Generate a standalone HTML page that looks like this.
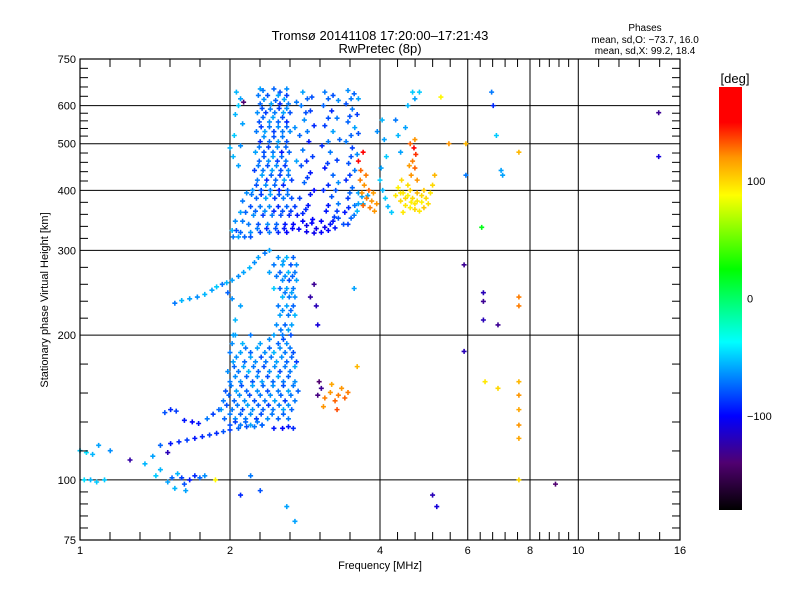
<!DOCTYPE html>
<html><head><meta charset="utf-8"><style>
body{margin:0;background:#fff;}
svg{display:block;font-family:"Liberation Sans","DejaVu Sans",sans-serif;}
</style></head><body>
<svg id="chart" width="800" height="600" viewBox="0 0 800 600" xmlns="http://www.w3.org/2000/svg">
<rect x="0" y="0" width="800" height="600" fill="#fff"/>
<text x="380" y="40" font-size="13" text-anchor="middle">Tromsø 20141108 17:20:00–17:21:43</text>
<text x="380" y="53" font-size="13" text-anchor="middle">RwPretec (8p)</text>
<text x="645" y="31" font-size="10" text-anchor="middle">Phases</text>
<text x="645" y="43" font-size="10" text-anchor="middle">mean, sd,O: −73.7, 16.0</text>
<text x="645" y="54" font-size="10" text-anchor="middle">mean, sd,X:  99.2, 18.4</text>
<text transform="translate(48,300) rotate(-90)" font-size="11" text-anchor="middle">Stationary phase Virtual Height [km]</text>
<text x="380" y="569" font-size="11" text-anchor="middle">Frequency [MHz]</text>
<g id="grid"></g>
<g id="points"></g>
<g id="frame"></g>
<g id="cbar"></g>
</svg>
<script>
const xTicks=[1,2,4,6,8,10,16];
const yTicks=[75,100,200,300,400,500,600,750];
const cbTicks=[100,0,-100];
const upperBlue=[[2.3,650,-60],[2.45,650,-75],[2.6,650,-65],[2.28,630,-70],[2.38,630,-80],[2.5,630,-60],[2.6,630,-85],[2.3,605,-75],[2.42,605,-60],[2.52,605,-90],[2.62,605,-70],[2.27,580,-65],[2.36,580,-85],[2.46,580,-70],[2.56,580,-60],[2.64,580,-80],[2.29,555,-80],[2.4,555,-65],[2.5,555,-75],[2.6,555,-90],[2.26,530,-70],[2.35,530,-60],[2.45,530,-85],[2.55,530,-70],[2.64,530,-65],[2.3,505,-90],[2.4,505,-75],[2.5,505,-60],[2.6,505,-80],[2.25,480,-60],[2.34,480,-80],[2.44,480,-70],[2.54,480,-95],[2.63,480,-75],[2.29,460,-75],[2.39,460,-65],[2.49,460,-85],[2.59,460,-70],[2.24,440,-85],[2.33,440,-70],[2.43,440,-60],[2.53,440,-80],[2.62,440,-65],[2.27,420,-70],[2.37,420,-90],[2.47,420,-75],[2.57,420,-60],[2.66,420,-85],[2.22,400,-65],[2.31,400,-80],[2.41,400,-70],[2.51,400,-95],[2.61,400,-75],[2.26,385,-75],[2.36,385,-60],[2.46,385,-85],[2.56,385,-70],[2.66,385,-80],[2.2,370,-80],[2.3,370,-70],[2.4,370,-65],[2.5,370,-90],[2.6,370,-75],[2.7,370,-85],[2.23,355,-65],[2.33,355,-85],[2.43,355,-70],[2.53,355,-80],[2.63,355,-90],[2.73,355,-95],[2.18,340,-70],[2.28,340,-80],[2.38,340,-65],[2.48,340,-75],[2.58,340,-95],[2.68,340,-100],[2.1,327,-75],[2.2,327,-65],[2.3,327,-85],[2.4,327,-70],[2.5,327,-90],[2.6,327,-100],[2.03,320,-70],[2.08,320,-60],[2.14,320,-75],[2.2,320,-80],[2.02,330,-55],[2.06,330,-80],[2.05,345,-65],[2.12,345,-70],[2.1,360,-60],[2.15,360,-75],[2.12,380,-70],[2.16,395,-65],
[2.06,640,-55],[2.1,620,-60],[2.08,600,-50],[2.05,575,-55],[2.12,550,-60],[2.04,520,-50],[2.1,495,-65],[2.03,470,-55],[2.08,450,-60],[2.0,490,-55],[2.13,610,-140],
[2.8,640,-60],[2.92,625,-80],[2.78,600,-70],[2.9,585,-85],[2.82,560,-65],[2.95,545,-90],[2.76,520,-75],[2.88,505,-95],[2.8,485,-70],[2.93,470,-85],[2.78,450,-80],[2.9,435,-95],[2.82,415,-75],[2.95,400,-100],[2.76,385,-85],[2.87,372,-95],[2.8,358,-90],[2.93,348,-100],[2.85,338,-105],[2.98,333,-105],[2.72,460,-60],[2.7,540,-65],[2.72,610,-70],
[2.75,332,-100],[2.85,328,-105],[2.95,326,-105],[3.05,327,-100],[3.15,330,-100],[3.25,334,-95],
[3.1,640,-70],[3.22,630,-80],[3.3,615,-65],[3.08,600,-75],[3.2,585,-90],[3.28,565,-70],[3.1,545,-85],[3.22,530,-60],[3.32,510,-75],[3.06,495,-90],[3.18,480,-70],[3.28,462,-85],[3.1,445,-95],[3.22,430,-75],[3.3,415,-65],[3.08,400,-90],[3.2,388,-80],[3.3,375,-70],[3.12,362,-95],[3.24,352,-85],[3.05,345,-100],[3.18,340,-95],[3.3,350,-80],
[3.45,645,-65],[3.55,635,-75],[3.62,620,-60],[3.42,605,-80],[3.52,590,-70],[3.6,575,-85],[3.45,555,-75],[3.56,540,-60],[3.62,525,-80],[3.42,505,-70],[3.52,490,-85],[3.6,475,-65],[3.46,455,-80],[3.56,440,-70],[3.42,420,-90],[3.52,405,-75],[3.62,395,-60],[3.45,385,-85],[3.56,372,-70],[3.4,360,-95],[3.5,350,-75],[3.6,362,-55],[3.7,375,-55],[3.78,390,-60],[3.38,340,-80],
[4.0,420,-50],[4.05,400,-55],[4.1,385,-50],[4.02,445,-60],[4.15,370,-55],[4.22,360,-50],[4.08,510,-60],[4.04,560,-55],[3.95,530,-65],[4.3,560,-70],[4.12,470,-50],
[4.4,480,-60],[4.35,520,-55],[4.5,540,-60],[4.55,600,-55],[4.65,640,-50],[4.7,620,-60]];
const upperFill=[[2.33,645,-70],[2.52,640,-80],[2.34,618,-65],[2.47,615,-75],[2.57,618,-60],[2.32,592,-80],[2.41,590,-70],[2.51,592,-85],[2.6,592,-65],[2.33,567,-75],[2.44,567,-60],[2.55,567,-80],[2.31,542,-85],[2.4,542,-70],[2.5,542,-65],[2.6,542,-75],[2.34,517,-65],[2.45,517,-80],[2.55,517,-70],[2.29,492,-70],[2.39,492,-85],[2.49,492,-65],[2.59,492,-75],[2.34,470,-80],[2.44,470,-60],[2.54,470,-75],[2.28,450,-70],[2.38,450,-80],[2.48,450,-65],[2.58,450,-85],[2.32,430,-60],[2.42,430,-75],[2.52,430,-85],[2.62,430,-70],[2.26,410,-80],[2.36,410,-65],[2.46,410,-75],[2.56,410,-90],[2.21,392,-70],[2.31,392,-85],[2.41,392,-60],[2.51,392,-80],[2.61,392,-70],[2.25,362,-75],[2.35,362,-65],[2.45,362,-90],[2.55,362,-80],[2.65,362,-85],[2.27,333,-70],[2.37,333,-90],[2.47,333,-80],[2.57,333,-95],[2.67,333,-100],
[2.86,620,-75],[2.84,580,-80],[2.86,530,-70],[2.85,460,-90],[2.86,425,-85],[2.9,392,-95],[2.84,365,-90],[2.92,342,-100],[2.8,345,-100],
[3.15,620,-75],[3.15,565,-80],[3.15,505,-70],[3.14,455,-85],[3.15,410,-90],[3.26,400,-80],[3.15,372,-95],[3.28,362,-85],[3.1,335,-105],[3.22,345,-95],
[3.5,620,-70],[3.48,570,-80],[3.5,520,-75],[3.5,470,-80],[3.48,430,-85],[3.48,395,-75],[3.46,368,-90],[3.55,355,-70],[3.62,375,-60],[3.68,388,-60],[3.45,340,-85]];
const upperOrange=[[3.65,420,125],[3.72,410,120],[3.8,400,130],[3.68,395,120],[3.76,385,125],[3.85,380,120],[3.7,372,130],[3.82,368,125],[3.9,362,120],[3.66,440,130],[3.75,430,125],[3.88,395,118],[3.94,375,120],[3.62,460,150],[3.7,480,155],
[4.62,430,120],[4.7,445,130],[4.65,460,125],[4.72,475,140],[4.68,490,150],[4.6,500,130],[4.75,420,120],[4.58,450,118],[4.7,510,120]];
const upperYellow=[[4.35,405,92],[4.45,395,95],[4.55,390,90],[4.65,385,100],[4.75,380,95],[4.85,378,92],[4.95,385,100],[5.05,395,95],[4.4,380,100],[4.5,372,95],[4.6,368,92],[4.7,365,100],[4.8,362,95],[4.9,368,105],[5.0,375,98],[4.42,420,100],[4.55,410,98],[4.9,400,105],[5.1,410,100],[5.15,430,110],[4.3,390,95],[4.6,400,100],[4.75,395,110],[4.45,360,95],[4.5,385,100],[4.7,375,95],[4.85,390,100],[4.62,378,92],[4.4,395,95]];
const lowerBlob=[[2.5,290,-65],[2.6,290,-55],[2.68,290,-75],[2.45,280,-70],[2.55,280,-60],[2.65,280,-80],[2.72,280,-65],[2.4,270,-60],[2.52,270,-75],[2.62,270,-55],[2.7,270,-70],[2.55,260,-65],[2.63,260,-80],[2.72,260,-60],[2.52,250,-75],[2.6,250,-60],[2.68,250,-70],[2.45,250,-50],[2.55,240,-55],[2.63,240,-70],[2.7,240,-65],[2.5,230,-70],[2.6,230,-60],[2.68,230,-75],[2.52,220,-60],[2.62,220,-70],[2.7,220,-55],[2.48,210,-65],[2.58,210,-75],[2.66,210,-60],
[2.05,200,-60],[2.2,200,-70],[2.45,200,-60],[2.55,200,-70],[2.65,200,-80],[2.02,192,-65],[2.12,192,-55],[2.3,192,-60],[2.5,192,-75],[2.6,192,-65],[2.0,184,-70],[2.1,184,-60],[2.2,184,-75],[2.35,184,-65],[2.45,184,-55],[2.58,184,-70],[2.68,184,-80],[2.03,176,-60],[2.14,176,-75],[2.25,176,-65],[2.36,176,-70],[2.48,176,-60],[2.6,176,-75],[2.72,176,-85],[1.98,168,-65],[2.08,168,-70],[2.18,168,-55],[2.28,168,-75],[2.4,168,-65],[2.52,168,-80],[2.64,168,-70],[2.0,160,-70],[2.1,160,-65],[2.22,160,-80],[2.32,160,-60],[2.44,160,-75],[2.56,160,-70],[2.7,160,-65],[1.96,153,-80],[2.06,153,-60],[2.16,153,-75],[2.27,153,-65],[2.38,153,-80],[2.5,153,-70],[2.62,153,-60],[2.74,153,-75],[1.94,146,-70],[2.04,146,-75],[2.14,146,-65],[2.24,146,-80],[2.35,146,-70],[2.46,146,-60],[2.58,146,-85],[2.7,146,-70],[1.92,140,-60],[2.02,140,-70],[2.12,140,-80],[2.22,140,-65],[2.33,140,-75],[2.44,140,-70],[2.56,140,-60],[2.66,140,-75],[1.95,134,-75],[2.05,134,-65],[2.15,134,-70],[2.26,134,-85],[2.38,134,-65],[2.5,134,-75],[2.62,134,-70],[2.0,130,-80],[2.1,130,-70],[2.2,130,-60],[2.32,130,-75],
[2.95,255,-130],[2.9,240,-125],[2.98,230,-120],[3.0,210,-110],[2.05,215,-55],[2.1,230,-60],[2.03,200,-60]];
const lowerFill=[[2.56,285,-60],[2.48,265,-70],[2.58,265,-65],[2.67,265,-75],[2.58,245,-70],[2.66,245,-60],[2.55,225,-65],[2.65,225,-75],[2.53,205,-70],[2.62,205,-60],[2.4,196,-65],[2.56,196,-80],[2.15,188,-70],[2.27,188,-60],[2.4,188,-75],[2.52,188,-65],[2.64,188,-70],[2.06,180,-65],[2.2,180,-60],[2.31,180,-80],[2.42,180,-70],[2.54,180,-65],[2.66,180,-75],[2.04,172,-75],[2.13,172,-60],[2.23,172,-70],[2.34,172,-80],[2.46,172,-65],[2.58,172,-70],[2.7,172,-60],[2.05,164,-65],[2.16,164,-75],[2.27,164,-65],[2.38,164,-80],[2.5,164,-60],[2.62,164,-75],[2.01,157,-70],[2.11,157,-80],[2.22,157,-60],[2.33,157,-75],[2.44,157,-65],[2.56,157,-80],[2.68,157,-70],[1.99,150,-75],[2.09,150,-65],[2.19,150,-80],[2.3,150,-70],[2.41,150,-65],[2.53,150,-75],[2.65,150,-70],[1.97,143,-80],[2.07,143,-70],[2.17,143,-60],[2.28,143,-75],[2.39,143,-85],[2.51,143,-70],[2.62,143,-65],[2.0,137,-70],[2.1,137,-75],[2.2,137,-65],[2.31,137,-80],[2.43,137,-70],[2.56,137,-75],[2.05,132,-85],[2.15,132,-75],[2.27,132,-70]];
const lowerTraces=[[1.45,118,-75],[1.52,119,-95],[1.58,120,-90],[1.64,121,-85],[1.7,122,-95],[1.76,123,-90],[1.82,124,-85],[1.88,125,-90],[1.94,126,-80],[2.0,127,-85],[2.08,128,-75],[2.16,129,-80],[2.24,129,-70],[2.32,130,-75],[2.45,128,-95],[2.55,128,-100],[2.62,129,-95],[2.68,128,-90],
[1.48,138,-80],[1.52,140,-90],[1.56,139,-85],[1.62,133,-95],[1.68,132,-100],[1.73,131,-95],[1.8,134,-70],[1.85,137,-85],[1.9,140,-75],[1.4,112,-60],[1.35,108,-55],[1.5,114,-120],
[1.5,99,-60],[1.53,101,-75],[1.57,103,-55],[1.6,101,-85],[1.62,98,-80],[1.66,100,-95],[1.7,102,-90],[1.74,101,-75],[1.78,102,-65],[1.55,96,-55],[1.63,95,-60],[1.45,105,-55],[1.42,102,-50],[1.87,100,90],
[1.0,115,-50],[1.03,114,-45],[1.06,113,-55],[1.09,118,-60],[1.02,100,-45],[1.05,100,-55],[1.08,99,-50],[1.15,115,-65],[1.26,110,-125],[1.12,100,-50],
[1.55,233,-70],[1.6,236,-55],[1.66,238,-60],[1.72,240,-65],[1.78,243,-55],[1.84,248,-60],[1.88,252,-50],[1.93,255,-70],[1.97,257,-55],[2.02,260,-60],[2.08,265,-65],[2.13,270,-60],[2.19,276,-55],[2.24,283,-65],[2.28,290,-60],[2.35,296,-70],[2.4,300,-60],[1.98,245,-75],[2.02,238,-65]];
const lowerOrange=[[3.1,148,125],[3.18,152,120],[3.25,146,130],[3.3,150,125],[3.35,155,120],[3.4,148,130],[3.45,152,125],[3.2,158,115],[3.08,142,120],[3.28,140,135],[3.02,160,-140],[3.05,155,-130],[3.0,150,-135],[3.6,172,110],[3.55,250,-60]];
const scatterRight=[[6.45,245,-120],[6.45,235,-130],[6.45,215,-120],[6.9,210,-130],[7.6,240,125],[7.6,230,125],[7.6,160,110],[7.6,150,120],[7.6,140,115],[7.6,130,120],[7.6,122,115],[7.6,100,100],[6.5,160,95],[6.9,155,100],[5.9,280,-130],[5.9,185,-120],[6.4,335,20],[5.95,500,110],[5.95,430,-70],[7.0,440,-60],[7.05,430,-60],[6.85,520,-50],[6.7,640,-70],[6.75,600,-90],[7.6,480,110],[14.5,580,-130],[14.5,470,-110],[9.0,98,-140],[5.3,625,90],[5.5,500,120],[4.8,640,-50],[5.1,93,-120],[5.2,88,-110],[2.1,93,-90],[2.6,88,-60],[2.3,95,-80],[2.7,82,-60],[2.2,102,-70]];

const X0=80,X1=680,Y0=59,Y1=540;
function xs(f){return X0+(X1-X0)*Math.log10(f)/Math.log10(16);}
function ys(h){return Y1-(Y1-Y0)*Math.log10(h/75)/Math.log10(10);}
const stops=[[-180,[0,0,0]],[-140,[80,0,112]],[-100,[0,0,255]],[-37,[0,255,255]],[25,[0,255,0]],[88,[255,255,0]],[120,[255,150,0]],[150,[255,0,0]],[180,[255,0,0]]];
function col(p){p=Math.max(-180,Math.min(180,p));for(let i=1;i<stops.length;i++){if(p<=stops[i][0]){const a=stops[i-1],b=stops[i],t=(p-a[0])/(b[0]-a[0]);const c=a[1].map((v,k)=>Math.round(v+(b[1][k]-v)*t));return `rgb(${c[0]},${c[1]},${c[2]})`;}}return 'red';}
const NS='http://www.w3.org/2000/svg';
function mk(tag,attrs,parent){const e=document.createElementNS(NS,tag);for(const k in attrs)e.setAttribute(k,attrs[k]);parent.appendChild(e);return e;}
const grid=document.getElementById('grid'),frame=document.getElementById('frame'),pts=document.getElementById('points'),cb=document.getElementById('cbar');
xTicks.forEach((t,i)=>{const x=xs(t);
 if(i>0&&i<xTicks.length-1){const l=mk('line',{x1:x,x2:x,y1:Y0,y2:Y1,stroke:'#000','stroke-width':1},grid);
 
 }
 const tx=mk('text',{x:x,y:554,'font-size':11,'text-anchor':'middle'},frame);tx.textContent=t;
 
 
 if(i<xTicks.length-1){const x2=xs(xTicks[i+1]);for(let k=1;k<5;k++){const mx=x+(x2-x)*k/5;
  mk('line',{x1:mx,x2:mx,y1:Y1,y2:Y1-8,stroke:'#000'},frame);mk('line',{x1:mx,x2:mx,y1:Y0,y2:Y0+8,stroke:'#000'},frame);}}
});
yTicks.forEach((t,i)=>{const y=ys(t);
 if(i>0&&i<yTicks.length-1){const l=mk('line',{x1:X0,x2:X1,y1:y,y2:y,stroke:'#000','stroke-width':1},grid);
 
 }
 const tx=mk('text',{x:76,y:y+4,'font-size':11,'text-anchor':'end'},frame);tx.textContent=t;
 
 
 if(i<yTicks.length-1){const y2=ys(yTicks[i+1]);for(let k=1;k<5;k++){const my=y+(y2-y)*k/5;
  mk('line',{x1:X0,x2:X0+8,y1:my,y2:my,stroke:'#000'},frame);mk('line',{x1:X1,x2:X1-8,y1:my,y2:my,stroke:'#000'},frame);}}
});
const fr=mk('rect',{x:X0,y:Y0,width:X1-X0,height:Y1-Y0,fill:'none',stroke:'#000','stroke-width':1.2},frame);


function drawSet(arr,name){arr.forEach(d=>{const x=xs(d[0]),y=ys(d[1]);
 const p=mk('path',{d:`M${x-2.5},${y}h5M${x},${y-2.5}v5`,stroke:col(d[2]),'stroke-width':1.6,fill:'none'},pts);
 
 });}
drawSet(upperBlue,'upper-blue-point');
drawSet(upperFill,'upper-blue-point');
drawSet(upperOrange,'upper-orange-point');
drawSet(upperYellow,'upper-yellow-point');
drawSet(lowerBlob,'lower-blob-point');
drawSet(lowerFill,'lower-blob-point');
drawSet(lowerTraces,'lower-trace-point');
drawSet(lowerOrange,'lower-orange-point');
drawSet(scatterRight,'scatter-point');
const CB0=87,CB1=510;function cy(p){return CB0+(CB1-CB0)*(180-p)/360;}
const defs=mk('defs',{},cb);const g=mk('linearGradient',{id:'cg',x1:0,y1:1,x2:0,y2:0},defs);
stops.forEach(s=>mk('stop',{offset:(s[0]+180)/360,'stop-color':`rgb(${s[1].join(',')})`},g));
const cr=mk('rect',{x:719,y:CB0,width:23,height:CB1-CB0,fill:'url(#cg)'},cb);


const ct=mk('text',{x:735,y:83,'font-size':13,'text-anchor':'middle'},cb);ct.textContent='[deg]';


cbTicks.forEach(t=>{const tx=mk('text',{x:747,y:cy(t)+4,'font-size':11},cb);tx.textContent=t===-100?'−100':t;
 
 });
</script>
</body></html>
